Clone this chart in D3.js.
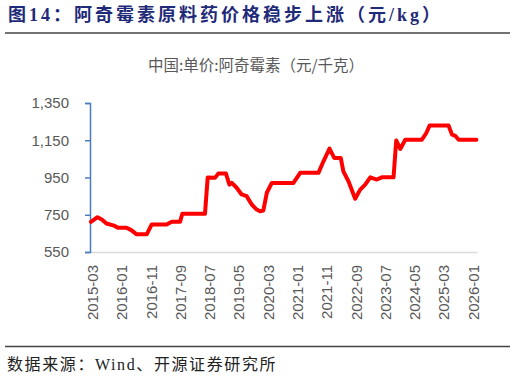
<!DOCTYPE html>
<html>
<head>
<meta charset="utf-8">
<script src="https://cdn.jsdelivr.net/npm/d3@7"></script>
<style>
  html, body { margin: 0; padding: 0; background: #fff; }
  svg { display: block; }
</style>
</head>
<body>
<svg id="chart"></svg>
<script>
// price series (date, yuan/kg)
const dates = [
  "2015-02-15","2015-04-24","2015-06-08","2015-07-26","2015-10-21","2015-11-22",
  "2016-02-21","2016-04-13","2016-06-04","2016-09-17","2016-11-08","2017-04-12",
  "2017-06-04","2017-08-29","2017-09-22","2018-05-16","2018-06-13","2018-08-28",
  "2018-10-01","2018-12-20","2019-01-25","2019-02-19","2019-04-10","2019-06-01",
  "2019-07-23","2019-09-14","2019-11-05","2019-12-09","2020-01-13","2020-02-18",
  "2020-04-10","2020-11-21","2021-01-30","2021-08-08","2021-09-29","2021-12-01",
  "2022-01-19","2022-03-28","2022-04-24","2022-06-16","2022-08-25","2022-10-16",
  "2022-12-07","2023-01-29","2023-04-07","2023-05-29","2023-09-28","2023-10-26",
  "2023-12-07","2024-01-28","2024-07-19","2024-09-03","2024-10-07","2025-04-22",
  "2025-05-28","2025-07-01","2025-08-05","2026-02-06"
];
const prices = [
  712,737,725,703,690,680,
  680,666,645,645,698,698,
  712,712,755,755,950,948,
  971,971,912,921,895,859,
  850,805,778,769,773,868,
  921,921,975,975,1037,1105,
  1055,1055,983,930,836,885,
  912,951,939,951,951,1149,
  1103,1153,1153,1189,1229,1229,
  1180,1174,1153,1153
];
const tickLabels = ["2015-03","2016-01","2016-11","2017-09","2018-07","2019-05","2020-03",
                    "2021-01","2021-11","2022-09","2023-07","2024-05","2025-03","2026-01"];
const yTicks = [550, 750, 950, 1150, 1350];

const width = 515, height = 376;
const margin = {top: 103, right: 38, bottom: 124, left: 90},
      bodyWidth = width - margin.left - margin.right,
      bodyHeight = height - margin.top - margin.bottom;

const parse = d3.timeParse("%Y-%m-%d"),
      parseMonth = d3.timeParse("%Y-%m");

const data = dates.map((d, i) => ({date: parse(d), value: prices[i]}));

const svg = d3.select("#chart")
    .attr("width", width)
    .attr("height", height);

// header
svg.append("text")
    .attr("x", 8).attr("y", 21)
    .attr("fill", "#1f2a78")
    .style("font-family", "'Liberation Serif', 'Noto Sans CJK SC', serif")
    .style("font-weight", "bold")
    .style("font-size", "18px")
    .style("letter-spacing", "3px")
    .text("图14：阿奇霉素原料药价格稳步上涨（元/kg）");

svg.append("line")
    .attr("x1", 5).attr("x2", 510)
    .attr("y1", 33).attr("y2", 33)
    .attr("stroke", "#444").attr("stroke-width", 1.5);

// footer
svg.append("line")
    .attr("x1", 5).attr("x2", 510)
    .attr("y1", 346.5).attr("y2", 346.5)
    .attr("stroke", "#444").attr("stroke-width", 1.5);

svg.append("text")
    .attr("x", 7).attr("y", 370)
    .attr("fill", "#222")
    .style("font-family", "'Liberation Serif', 'Noto Sans CJK SC', serif")
    .style("font-size", "16px")
    .style("letter-spacing", "1.6px")
    .text("数据来源：Wind、开源证券研究所");

// chart title
svg.append("text")
    .attr("x", 256).attr("y", 71)
    .attr("text-anchor", "middle")
    .attr("fill", "#595959")
    .style("font-family", "'Noto Sans CJK SC', sans-serif")
    .style("font-size", "15.5px")
    .text("中国:单价:阿奇霉素（元/千克）");

const xScale = d3.scaleTime()
    .domain([parse("2015-02-05"), parse("2026-02-12")])
    .range([0, bodyWidth]);

const yScale = d3.scaleLinear()
    .domain([550, 1350])
    .range([bodyHeight, 0]);

const body = svg.append("g")
    .attr("transform", `translate(${margin.left},${margin.top})`);

// x axis
const xAxis = d3.axisBottom(xScale)
    .tickValues(tickLabels.map(parseMonth))
    .tickFormat(d3.timeFormat("%Y-%m"))
    .tickSize(0)
    .tickPadding(0);

const xAxisView = body.append("g")
    .attr("transform", `translate(0,${bodyHeight})`)
    .call(xAxis);
xAxisView.select(".domain").attr("stroke", "#d9d9d9").attr("stroke-width", 1.5);
xAxisView.selectAll("text")
    .attr("transform", "rotate(-90)")
    .attr("text-anchor", "end")
    .attr("x", -13)
    .attr("y", 0)
    .attr("dy", "0.35em")
    .attr("fill", "#595959")
    .style("font-family", "'Liberation Sans', Arial, sans-serif")
    .style("font-size", "15px");

// y axis
const yAxis = d3.axisLeft(yScale)
    .tickValues(yTicks)
    .tickFormat(d3.format(","))
    .tickSize(5)
    .tickPadding(16);

const yAxisView = body.append("g").call(yAxis);
yAxisView.select(".domain").attr("stroke", "#4a7ebb").attr("stroke-width", 1.5);
yAxisView.selectAll(".tick line").attr("stroke", "#4a7ebb").attr("stroke-width", 1.5);
yAxisView.selectAll("text")
    .attr("fill", "#595959")
    .style("font-family", "'Liberation Sans', Arial, sans-serif")
    .style("font-size", "15px");

// price line
const line = d3.line()
    .x(d => xScale(d.date))
    .y(d => yScale(d.value));

body.append("path")
    .datum(data)
    .attr("d", line)
    .attr("fill", "none")
    .attr("stroke", "#ff0000")
    .attr("stroke-width", 4)
    .attr("stroke-linejoin", "round")
    .attr("stroke-linecap", "round");
</script>
</body>
</html>
